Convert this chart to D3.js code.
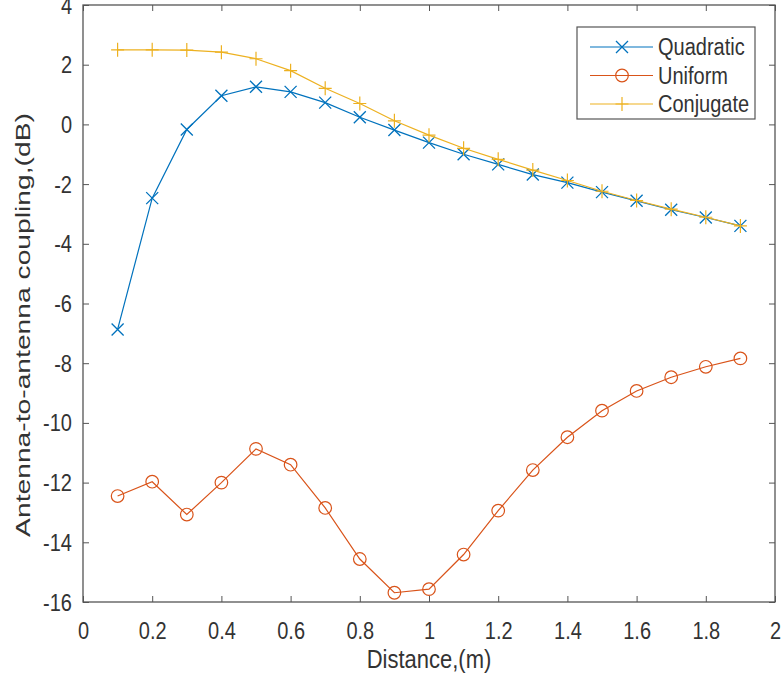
<!DOCTYPE html>
<html><head><meta charset="utf-8">
<script src="https://cdn.jsdelivr.net/npm/d3@7"></script>
<style>body{margin:0;background:#fff} text{font-family:"Liberation Sans",Arial,sans-serif}</style>
</head><body><svg id="c" width="782" height="680"></svg>
<script>
const distance = [0.1,0.2,0.3,0.4,0.5,0.6,0.7,0.8,0.9,1.0,1.1,1.2,1.3,1.4,1.5,1.6,1.7,1.8,1.9];
const quadratic = [-6.87,-2.47,-0.17,0.96,1.26,1.09,0.73,0.24,-0.19,-0.61,-1.0,-1.34,-1.68,-1.95,-2.27,-2.56,-2.86,-3.12,-3.4];
const uniform = [-12.45,-11.97,-13.07,-12.0,-10.87,-11.4,-12.85,-14.56,-15.69,-15.57,-14.41,-12.94,-11.58,-10.48,-9.59,-8.93,-8.47,-8.12,-7.84];
const conjugate = [2.5,2.5,2.49,2.42,2.2,1.8,1.21,0.7,0.12,-0.36,-0.8,-1.17,-1.53,-1.88,-2.24,-2.55,-2.84,-3.11,-3.4];
const xTicks = [0,0.2,0.4,0.6,0.8,1,1.2,1.4,1.6,1.8,2];
const yTicks = [-16,-14,-12,-10,-8,-6,-4,-2,0,2,4];
const seriesNames = ["Quadratic","Uniform","Conjugate"];
const seriesColors = ["#0072BD","#D95319","#EDB120"];
const seriesMarkers = ["x","o","+"];
const xLabel = "Distance,(m)";
const yLabel = "Antenna-to-antenna coupling,(dB)";

const series = [quadratic, uniform, conjugate].map((vals,i)=>({
  name: seriesNames[i], color: seriesColors[i], marker: seriesMarkers[i],
  pts: distance.map((d,j)=>({x:d, y:vals[j]}))
}));

const L=83, R=775, T=5, B=602;
const SY = 1.15;
const svg = d3.select("#c");
const x = d3.scaleLinear().domain([0,2]).range([L,R]);
const y = d3.scaleLinear().domain([-16,4]).range([B,T]);
const axisCol = "#555", textCol = "#333";

const fmt = d => String(+(+d).toFixed(1));

// bottom axis
const gx = svg.append("g").attr("transform",`translate(0,${B})`)
  .call(d3.axisBottom(x).tickValues(xTicks).tickFormat(fmt).tickSizeInner(-6).tickSizeOuter(0));
gx.select(".domain").remove();
gx.selectAll("line").attr("stroke",axisCol);
gx.selectAll("text").attr("y",0).attr("dy",null).attr("fill",textCol).attr("font-size",20)
  .attr("transform",`translate(0,37) scale(1,${SY})`);
// top axis
const gt = svg.append("g").attr("transform",`translate(0,${T})`)
  .call(d3.axisTop(x).tickValues(xTicks).tickFormat("").tickSizeInner(-6).tickSizeOuter(0));
gt.select(".domain").remove(); gt.selectAll("line").attr("stroke",axisCol);
// left axis
const gy = svg.append("g").attr("transform",`translate(${L},0)`)
  .call(d3.axisLeft(y).tickValues(yTicks).tickFormat(d=>String(d)).tickSizeInner(-6).tickSizeOuter(0));
gy.select(".domain").remove();
gy.selectAll("line").attr("stroke",axisCol);
gy.selectAll("text").attr("x",0).attr("dy",null).attr("fill",textCol).attr("font-size",20)
  .attr("text-anchor","end").attr("transform",`translate(-11,8) scale(1,${SY})`);
// right axis
const gr = svg.append("g").attr("transform",`translate(${R},0)`)
  .call(d3.axisRight(y).tickValues(yTicks).tickFormat("").tickSizeInner(-6).tickSizeOuter(0));
gr.select(".domain").remove(); gr.selectAll("line").attr("stroke",axisCol);

// box
svg.append("rect").attr("x",L).attr("y",T).attr("width",R-L).attr("height",B-T)
  .attr("fill","none").attr("stroke",axisCol).attr("stroke-width",1.3);

// labels
svg.append("text").text(xLabel).attr("text-anchor","middle").attr("font-size",22).attr("fill",textCol)
  .attr("transform",`translate(${(L+R)/2},668) scale(1,${SY})`);
const yl = svg.append("text").text(yLabel).attr("text-anchor","middle").attr("font-size",21).attr("fill",textCol);
const ylLen = yl.node().getComputedTextLength() || 315;
yl.attr("transform",`translate(30,325) rotate(-90) scale(${424/ylLen},1)`);

function drawMarker(g, type, color, cx, cy){
  if(type==="x"){
    g.append("path").attr("d",`M${cx-6},${cy-6}L${cx+6},${cy+6}M${cx-6},${cy+6}L${cx+6},${cy-6}`)
      .attr("stroke",color).attr("stroke-width",1.3).attr("fill","none");
  } else if(type==="o"){
    g.append("circle").attr("cx",cx).attr("cy",cy).attr("r",6.3)
      .attr("stroke",color).attr("stroke-width",1.2).attr("fill","none");
  } else {
    g.append("path").attr("d",`M${cx-6.5},${cy}L${cx+6.5},${cy}M${cx},${cy-7}L${cx},${cy+7}`)
      .attr("stroke",color).attr("stroke-width",1.2).attr("fill","none");
  }
}

const line = d3.line().x(d=>x(d.x)).y(d=>y(d.y));
series.forEach(s=>{
  const g = svg.append("g");
  g.append("path").datum(s.pts).attr("d",line).attr("fill","none")
    .attr("stroke",s.color).attr("stroke-width",1.2);
  s.pts.forEach(p=>drawMarker(g, s.marker, s.color, x(p.x), y(p.y)));
});

// legend
const lg = svg.append("g");
lg.append("rect").attr("x",577).attr("y",27).attr("width",178).attr("height",92)
  .attr("fill","#fff").attr("stroke",axisCol).attr("stroke-width",1.2);
series.forEach((s,i)=>{
  const ry = 47 + i*28.5;
  lg.append("line").attr("x1",590).attr("x2",653).attr("y1",ry).attr("y2",ry)
    .attr("stroke",s.color).attr("stroke-width",1.2);
  drawMarker(lg, s.marker, s.color, 622, ry);
  lg.append("text").text(s.name).attr("font-size",20).attr("fill",textCol)
    .attr("transform",`translate(658,${ry+8}) scale(1,${SY})`);
});
</script></body></html>
